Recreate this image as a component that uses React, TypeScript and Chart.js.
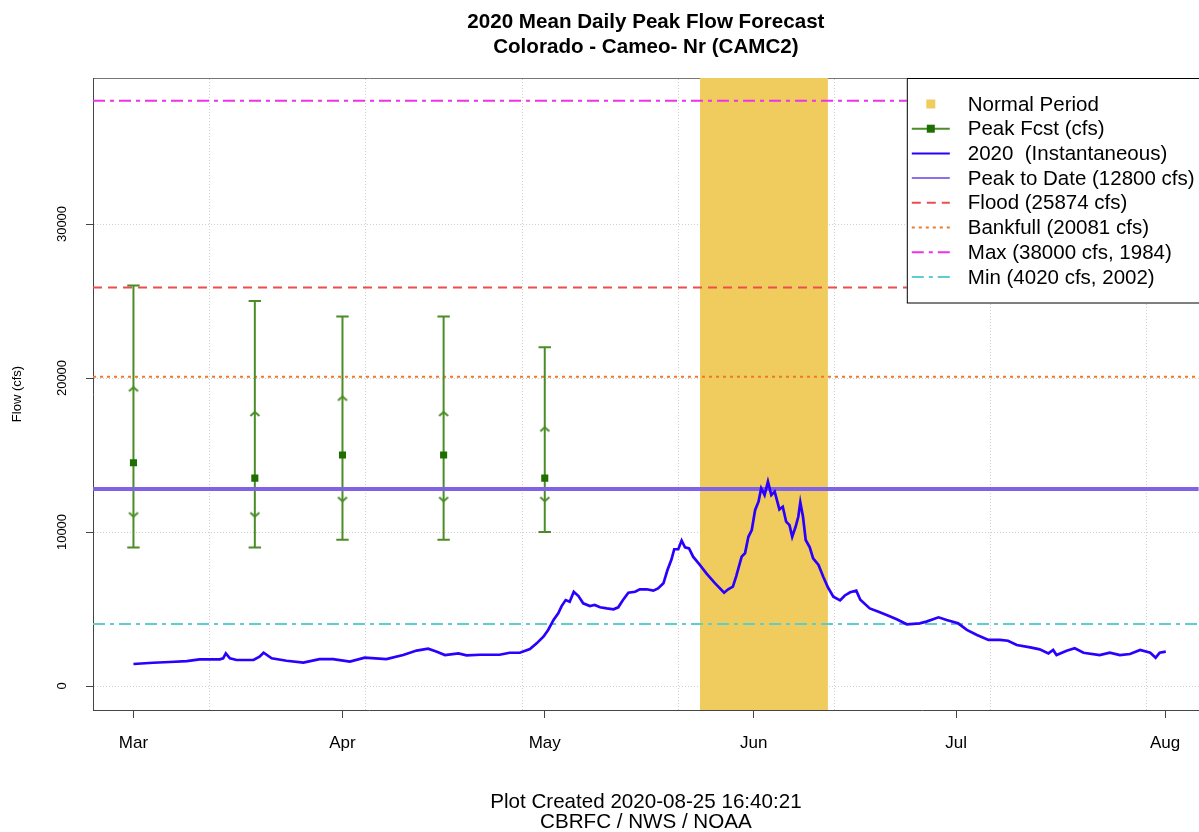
import React, { useEffect, useRef } from 'react';
import { Chart, registerables } from 'chart.js';

Chart.register(...registerables);

// ---------- data ----------
const titleLines = ['2020 Mean Daily Peak Flow Forecast', 'Colorado - Cameo- Nr (CAMC2)'];
const footerLines = ['Plot Created 2020-08-25 16:40:21', 'CBRFC / NWS / NOAA'];
const yAxisTitle = 'Flow (cfs)';

// x values are days since 2020-03-01
const monthTickDays = [0, 31, 61, 92, 122, 153];
const monthTickLabels = ['Mar', 'Apr', 'May', 'Jun', 'Jul', 'Aug'];
const yTickValues = [0, 10000, 20000, 30000];

const flowDays = [
  0, 2.9, 5.4, 7.9, 9.8, 12.8, 13.3, 13.7, 14.3, 15.3, 17.8, 18.7, 19.3, 20.5, 22.7, 25.2, 27.6, 29.6,
  32.1, 34.3, 37.5, 40.0, 42.0, 43.7, 45.0, 46.2, 48.2, 49.4, 51.4, 54.3, 55.8, 57.3, 58.8, 59.8, 60.8,
  61.5, 62.3, 63.0, 63.5, 64.1, 64.7, 65.3, 66.0, 66.7, 67.7, 68.4, 69.2, 70.2, 71.2, 71.9, 72.6, 73.4,
  74.4, 75.1, 76.1, 77.1, 77.8, 78.6, 79.2, 79.8, 80.2, 80.8, 81.3, 81.8, 82.4, 83.0, 84.0, 85.0, 86.2,
  87.6, 88.2, 88.9, 89.4, 90.2, 90.7, 91.2, 91.7, 92.2, 92.7, 93.1, 93.6, 94.1, 94.6, 95.1, 95.8, 96.3,
  96.8, 97.3, 97.7, 98.2, 98.6, 98.9, 99.3, 99.7, 100.3, 100.8, 101.6, 102.3, 103.0, 103.8, 104.8, 105.5,
  106.3, 107.2, 107.8, 109.2, 110.5, 111.7, 113.2, 114.7, 116.6, 117.6, 119.4, 120.6, 122.3, 123.6, 125.1,
  126.8, 128.5, 129.7, 131.0, 133.0, 134.4, 135.7, 136.4, 136.9, 138.4, 139.6, 140.9, 143.3, 144.8, 146.3,
  147.8, 149.3, 150.8, 151.6, 152.2, 153.1,
];
const flowCfs = [
  1430, 1510, 1560, 1620, 1730, 1730, 1800, 2120, 1800, 1690, 1690, 1900, 2160, 1800, 1640, 1520, 1750, 1750,
  1580, 1840, 1750, 2010, 2300, 2420, 2230, 2010, 2120, 1990, 2030, 2030, 2160, 2160, 2400, 2770, 3200,
  3640, 4290, 4720, 5190, 5580, 5470, 6120, 5840, 5370, 5190, 5260, 5110, 5040, 4980, 5110, 5580, 6060,
  6120, 6280, 6280, 6190, 6340, 6670, 7530, 8230, 8880, 8880, 9440, 9010, 8940, 8400, 7860, 7300, 6700,
  6060, 6280, 6450, 7140, 8400, 8620, 9690, 10130, 11430, 11970, 12840, 12400, 13270, 12400, 12620, 11470, 11640,
  10670, 10450, 9690, 10340, 10990, 11930, 10990, 9480, 9010, 8290, 7860, 7100, 6400, 5800, 5560, 5880,
  6090, 6190, 5600, 5040, 4820, 4610, 4330, 4010, 4070, 4180, 4460, 4290, 4070, 3640, 3310,
  2990, 2990, 2940, 2660, 2510, 2380, 2120, 2340, 2010, 2290, 2450, 2160, 2010, 2160, 2010,
  2080, 2340, 2160, 1840, 2160, 2230,
];

const fcstDays = [0, 18, 31, 46, 61];
const fcstMax = [26000, 25000, 24000, 24000, 22000];
const fcstUpper = [19400, 17800, 18800, 17800, 16800];
const fcstMedian = [14500, 13500, 15000, 15000, 13500];
const fcstLower = [11000, 11000, 12000, 12000, 12000];
const fcstMin = [9000, 9000, 9500, 9500, 10000];

const normalPeriodDays = [84, 103];
const peakToDate = 12800;
const floodFlow = 25874;
const bankfullFlow = 20081;
const maxFlow = 38000;
const maxYear = 1984;
const minFlow = 4020;
const minYear = 2002;

// ---------- styles ----------
const FONT = '"Liberation Sans", Arial, sans-serif';
const CANVAS_W = 1207;
const CANVAS_H = 832;
const X_MIN = -6;
const X_MAX = 158;
const Y_MIN = -1558;
const Y_MAX = 39481;
const BAND = '#f0cc5e';
const BLUE = 'rgb(42,0,255)';
const PURPLE = '#7f62e6';
const RED = '#ea4f4d';
const ORANGE = '#ec7a2c';
const MAGENTA = '#ec33ec';
const CYAN = '#5ecdcd';
const GREEN = '#4b8c27';
const DKGREEN = '#1f6e00';
const GRID = '#cfcfcf';
const AXIS = '#444444';
const DASH_FLOOD = [9, 6];
const DASH_BANK = [3, 4];
const DASH_DOTDASH = [12, 5, 4, 5];

// grid lines of the original sit on multiples of 2e6 seconds since the epoch
const GRID_STEP_DAYS = 2e6 / 86400;
const GRID_FIRST_DAY = (1584000000 - Date.UTC(2020, 2, 1) / 1000) / 86400;

function makeChevron(up: boolean, color: string) {
  const c = document.createElement('canvas');
  c.width = 16;
  c.height = 16;
  const g = c.getContext('2d')!;
  g.strokeStyle = color;
  g.lineWidth = 2;
  g.lineJoin = 'miter';
  g.beginPath();
  if (up) {
    g.moveTo(3.5, 12);
    g.lineTo(8, 8);
    g.lineTo(12.5, 12);
  } else {
    g.moveTo(3.5, 4);
    g.lineTo(8, 8);
    g.lineTo(12.5, 4);
  }
  g.stroke();
  return c;
}

const legendPlugin = {
  id: 'rLegend',
  afterDraw(chart: any) {
    const ctx = chart.ctx as CanvasRenderingContext2D;
    const area = chart.chartArea;
    const left = area.right - 292;
    const top = area.top;
    const h = 224.5;
    ctx.save();
    ctx.fillStyle = '#ffffff';
    ctx.fillRect(left, top, 310, h);
    ctx.strokeStyle = '#000000';
    ctx.lineWidth = 1;
    ctx.strokeRect(left + 0.5, top + 0.5, 310, h);
    const entries: any[] = [
      { text: 'Normal Period', kind: 'square', color: BAND },
      { text: 'Peak Fcst (cfs)', kind: 'lineSquare', color: GREEN },
      { text: '2020  (Instantaneous)', kind: 'line', color: BLUE, dash: [] },
      { text: `Peak to Date (${peakToDate} cfs)`, kind: 'line', color: '#8a70ea', dash: [] },
      { text: `Flood (${floodFlow} cfs)`, kind: 'line', color: RED, dash: DASH_FLOOD },
      { text: `Bankfull (${bankfullFlow} cfs)`, kind: 'line', color: ORANGE, dash: DASH_BANK },
      { text: `Max (${maxFlow} cfs, ${maxYear})`, kind: 'line', color: MAGENTA, dash: DASH_DOTDASH },
      { text: `Min (${minFlow} cfs, ${minYear})`, kind: 'line', color: CYAN, dash: DASH_DOTDASH },
    ];
    entries.forEach((e, i) => {
      const y = top + 26 + i * 24.7;
      const x0 = left + 5;
      const x1 = left + 43;
      const xc = (x0 + x1) / 2;
      if (e.kind === 'square') {
        ctx.fillStyle = e.color;
        ctx.fillRect(xc - 4.5, y - 4.5, 9, 9);
      } else {
        ctx.strokeStyle = e.color;
        ctx.lineWidth = 2;
        ctx.setLineDash(e.dash || []);
        ctx.beginPath();
        ctx.moveTo(x0, y);
        ctx.lineTo(x1, y);
        ctx.stroke();
        ctx.setLineDash([]);
        if (e.kind === 'lineSquare') {
          ctx.fillStyle = DKGREEN;
          ctx.fillRect(xc - 4, y - 4, 8, 8);
        }
      }
      ctx.fillStyle = '#000000';
      ctx.font = `20.5px ${FONT}`;
      ctx.textBaseline = 'middle';
      ctx.textAlign = 'left';
      ctx.fillText(e.text, left + 61, y + 1);
    });
    ctx.restore();
  },
};

function hLine(value: number) {
  return [
    { x: X_MIN, y: value },
    { x: X_MAX, y: value },
  ];
}

export default function App() {
  const ref = useRef<HTMLCanvasElement | null>(null);

  useEffect(() => {
    if (!ref.current) return;
    Chart.defaults.font.family = FONT;
    const whiskers: any[] = [];
    const caps: any[] = [];
    fcstDays.forEach((d, i) => {
      whiskers.push({ x: d, y: fcstMin[i] }, { x: d, y: fcstMax[i] }, { x: d, y: null });
      caps.push({ x: d, y: fcstMin[i] }, { x: d, y: fcstMax[i] });
    });
    const upChevron = makeChevron(true, GREEN);
    const downChevron = makeChevron(false, GREEN);

    const chart = new Chart(ref.current, {
      type: 'line',
      data: {
        datasets: [
          {
            label: 'Normal Period',
            data: [
              { x: normalPeriodDays[0], y: Y_MAX },
              { x: normalPeriodDays[1], y: Y_MAX },
            ],
            fill: 'start',
            backgroundColor: BAND,
            borderWidth: 0,
            pointRadius: 0,
            order: 20,
          },
          { label: 'Max', data: hLine(maxFlow), borderColor: MAGENTA, borderDash: DASH_DOTDASH, borderWidth: 2, pointRadius: 0, order: 15 },
          { label: 'Flood', data: hLine(floodFlow), borderColor: RED, borderDash: DASH_FLOOD, borderWidth: 2, pointRadius: 0, order: 15 },
          { label: 'Bankfull', data: hLine(bankfullFlow), borderColor: ORANGE, borderDash: DASH_BANK, borderWidth: 2, pointRadius: 0, order: 15 },
          { label: 'Min', data: hLine(minFlow), borderColor: CYAN, borderDash: DASH_DOTDASH, borderWidth: 2, pointRadius: 0, order: 15 },
          { label: 'whiskers', data: whiskers, borderColor: GREEN, borderWidth: 2, pointRadius: 0, spanGaps: false, order: 12 },
          {
            label: 'caps',
            data: caps,
            showLine: false,
            pointStyle: 'line',
            pointRadius: 6.2,
            borderColor: GREEN,
            pointBorderColor: GREEN,
            pointBorderWidth: 2,
            order: 11,
          },
          {
            label: 'upper',
            data: fcstDays.map((d, i) => ({ x: d, y: fcstUpper[i] })),
            showLine: false,
            pointStyle: upChevron,
            pointRadius: 5,
            order: 11,
          },
          {
            label: 'lower',
            data: fcstDays.map((d, i) => ({ x: d, y: fcstLower[i] })),
            showLine: false,
            pointStyle: downChevron,
            pointRadius: 5,
            order: 11,
          },
          {
            label: 'Peak Fcst (cfs)',
            data: fcstDays.map((d, i) => ({ x: d, y: fcstMedian[i] })),
            showLine: false,
            pointStyle: 'rect',
            pointRadius: 5,
            pointBackgroundColor: DKGREEN,
            pointBorderWidth: 0,
            order: 10,
          },
          { label: 'Peak to Date', data: hLine(peakToDate), borderColor: PURPLE, borderWidth: 4, pointRadius: 0, order: 5 },
          {
            label: '2020 (Instantaneous)',
            data: flowDays.map((d, i) => ({ x: d, y: flowCfs[i] })),
            borderColor: BLUE,
            borderWidth: 2.7,
            pointRadius: 0,
            order: 2,
          },
        ] as any,
      },
      options: {
        responsive: false,
        animation: false,
        devicePixelRatio: 1,
        events: [],
        layout: { padding: 0 },
        scales: {
          x: {
            type: 'linear',
            position: 'bottom',
            min: X_MIN,
            max: X_MAX,
            afterBuildTicks: (s: any) => {
              s.ticks = monthTickDays.map((v) => ({ value: v }));
            },
            afterFit: (s: any) => {
              s.paddingLeft = 0;
              s.paddingRight = 0;
            },
            ticks: {
              autoSkip: false,
              maxRotation: 0,
              minRotation: 0,
              padding: 15,
              color: '#000',
              font: { size: 17 },
              callback: (v: any) => {
                const i = monthTickDays.indexOf(Number(v));
                return i >= 0 ? monthTickLabels[i] : '';
              },
            },
            grid: { drawOnChartArea: false, tickLength: 8, tickColor: AXIS, tickWidth: 1 },
            border: { display: true, color: AXIS, width: 1 },
          },
          x2: {
            type: 'linear',
            axis: 'x',
            position: 'top',
            min: X_MIN,
            max: X_MAX,
            afterBuildTicks: (s: any) => {
              const t: any[] = [];
              for (let v = GRID_FIRST_DAY; v < X_MAX; v += GRID_STEP_DAYS) t.push({ value: v });
              s.ticks = t;
            },
            afterFit: (s: any) => {
              s.paddingLeft = 0;
              s.paddingRight = 0;
            },
            ticks: { display: false },
            grid: { drawTicks: false, color: GRID, lineWidth: 1 },
            border: { display: true, color: '#777777', width: 1, dash: [1, 2] },
          },
          y: {
            type: 'linear',
            position: 'left',
            min: Y_MIN,
            max: Y_MAX,
            afterBuildTicks: (s: any) => {
              s.ticks = yTickValues.map((v) => ({ value: v }));
            },
            afterFit: (s: any) => {
              s.width = 93;
            },
            ticks: {
              minRotation: 90,
              maxRotation: 90,
              crossAlign: 'center',
              padding: 6,
              color: '#000',
              font: { size: 13 },
              callback: (v: any) => String(v),
            },
            grid: { color: GRID, lineWidth: 1, tickLength: 7, tickColor: AXIS, tickWidth: 1 },
            border: { display: true, color: AXIS, width: 1, dash: [1, 2] },
            title: {
              display: true,
              text: yAxisTitle,
              color: '#000',
              font: { size: 13 },
              padding: { top: 10, bottom: 0 },
            },
          },
        },
        plugins: {
          legend: { display: false },
          tooltip: { enabled: false },
          title: {
            display: true,
            text: titleLines,
            color: '#000',
            fullSize: false,
            font: { size: 20.6, weight: 'bold', lineHeight: 25 / 20.6 },
            padding: { top: 9.5, bottom: 18.5 },
          },
          subtitle: {
            display: true,
            position: 'bottom',
            text: footerLines,
            color: '#000',
            fullSize: false,
            font: { size: 20.6, weight: 'normal', lineHeight: 20 / 20.6 },
            padding: { top: 23.6, bottom: 0 },
          },
        },
      } as any,
      plugins: [legendPlugin],
    });
    return () => chart.destroy();
  }, []);

  return (
    <div style={{ position: 'fixed', left: 0, top: 0, width: 1199, height: 832, overflow: 'hidden', background: '#fff' }}>
      <canvas
        ref={ref}
        width={CANVAS_W}
        height={CANVAS_H}
        style={{ display: 'block', width: CANVAS_W, height: CANVAS_H }}
      />
    </div>
  );
}
